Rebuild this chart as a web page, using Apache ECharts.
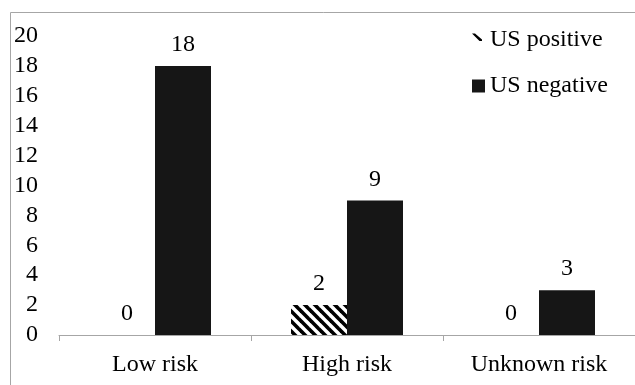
<!DOCTYPE html>
<html>
<head>
<meta charset="utf-8">
<script src="https://cdn.jsdelivr.net/npm/echarts@6/dist/echarts.min.js"></script>
<style>
html,body{margin:0;padding:0;background:#fff;}
#c{width:635px;height:385px;}
</style>
</head>
<body>
<div id="c"></div>
<script>
const categories = ['Low risk', 'High risk', 'Unknown risk'];
const usPositive = [0, 2, 0];
const usNegative = [18, 9, 3];
const seriesNames = ['US positive', 'US negative'];

const FONT = 'Liberation Serif';

function makeHatch() {
  const s = 10;
  const cv = document.createElement('canvas');
  cv.width = s; cv.height = s;
  const ctx = cv.getContext('2d');
  ctx.fillStyle = '#ffffff';
  ctx.fillRect(0, 0, s, s);
  ctx.strokeStyle = '#000000';
  ctx.lineWidth = 3.6;
  ctx.lineCap = 'square';
  for (let k = -1; k <= 1; k++) {
    ctx.beginPath();
    ctx.moveTo(-2 + k * s, -2);
    ctx.lineTo(s + 2 + k * s, s + 2);
    ctx.stroke();
  }
  return cv;
}

const chart = echarts.init(document.getElementById('c'), null, {renderer: 'canvas'});
const hatch = {image: makeHatch(), repeat: 'repeat'};

const labelStyle = {
  show: true,
  position: 'top',
  distance: 9,
  color: '#000',
  fontFamily: FONT,
  fontSize: 24
};

chart.setOption({
  animation: false,
  backgroundColor: '#fff',
  graphic: [{
    type: 'rect',
    shape: {x: 10.5, y: 12.5, width: 700, height: 500},
    style: {fill: 'none', stroke: '#a6a6a6', lineWidth: 1},
    silent: true,
    z: -1
  }],
  grid: {left: 59, top: 36, width: 585, height: 299, containLabel: false},
  legend: {
    orient: 'vertical',
    left: 472,
    top: 28,
    padding: 0,
    itemWidth: 13,
    itemHeight: 13,
    itemGap: 22,
    textStyle: {fontFamily: FONT, fontSize: 24, color: '#000', lineHeight: 24},
    data: [
      {
        name: seriesNames[0],
        icon: 'path://M0,0 L3,0 L10,6 L10,7.5 L7.5,7.5 Z M13,13 L13,12.9 L12.9,13 Z',
        itemStyle: {color: '#000'}
      },
      {name: seriesNames[1], icon: 'rect'}
    ]
  },
  xAxis: {
    type: 'category',
    data: categories,
    axisLine: {show: true, lineStyle: {color: '#a6a6a6', width: 1}},
    axisTick: {show: true, length: 6, alignWithLabel: false, lineStyle: {color: '#a6a6a6'}},
    axisLabel: {fontFamily: FONT, fontSize: 24, color: '#000', margin: 18},
    splitLine: {show: false}
  },
  yAxis: {
    type: 'value',
    min: 0,
    max: 20,
    interval: 2,
    axisLine: {show: false},
    axisTick: {show: false},
    splitLine: {show: false},
    axisLabel: {fontFamily: FONT, fontSize: 24, color: '#000', margin: 21}
  },
  series: [
    {
      name: seriesNames[0],
      type: 'bar',
      data: usPositive,
      barWidth: 56,
      barGap: '0%',
      itemStyle: {color: hatch},
      label: labelStyle
    },
    {
      name: seriesNames[1],
      type: 'bar',
      data: usNegative,
      barWidth: 56,
      barGap: '0%',
      itemStyle: {color: '#161616'},
      label: labelStyle
    }
  ]
});
</script>
</body>
</html>
